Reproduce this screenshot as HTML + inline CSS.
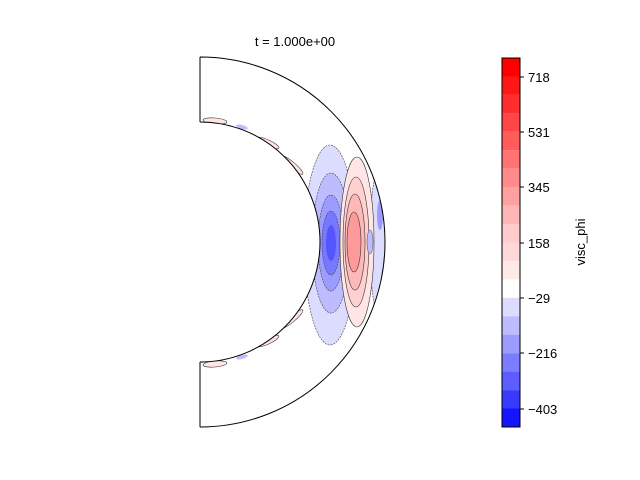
<!DOCTYPE html>
<html><head><style>body{margin:0;background:#fff}svg{display:block}</style></head><body>
<svg width="640" height="480" xmlns="http://www.w3.org/2000/svg" font-family="Liberation Sans, DejaVu Sans, sans-serif">
<defs>
<clipPath id="ann"><path d="M200,57 A185,185 0 0 1 200,427 L200,362 A120,120 0 0 0 200,122 Z"/></clipPath>
</defs>
<text x="295" y="46" font-size="13" text-anchor="middle">t = 1.000e+00</text>
<g clip-path="url(#ann)">
<rect x="200" y="57" width="190" height="370" fill="#fefefe"/>
<ellipse cx="378" cy="242" rx="8" ry="70" fill="#dcdcff" stroke="#444" stroke-width="0.6" stroke-dasharray="2,1"/>
<ellipse cx="380" cy="215" rx="3" ry="15" fill="#9c9cff"/>
<ellipse cx="330" cy="245" rx="26" ry="100" fill="#dcdcff" stroke="#444" stroke-width="0.6" stroke-dasharray="2,1"/>
<ellipse cx="331" cy="243" rx="19" ry="70" fill="#bcbcff" stroke="#444" stroke-width="0.6" stroke-dasharray="2,1"/>
<ellipse cx="331" cy="243" rx="13" ry="48" fill="#9c9cff" stroke="#444" stroke-width="0.6" stroke-dasharray="2,1"/>
<ellipse cx="331" cy="243" rx="9" ry="32" fill="#7878ff" stroke="#444" stroke-width="0.6" stroke-dasharray="2,1"/>
<ellipse cx="331" cy="243" rx="5" ry="18" fill="#5555ff"/>
<ellipse cx="357" cy="242" rx="17" ry="85" fill="#ffe5e5" stroke="#333" stroke-width="0.6"/>
<ellipse cx="356" cy="242" rx="13" ry="65" fill="#ffd0d0" stroke="#333" stroke-width="0.6"/>
<ellipse cx="355" cy="242" rx="10" ry="48" fill="#ffb8b8" stroke="#333" stroke-width="0.6"/>
<ellipse cx="354" cy="242" rx="7" ry="30" fill="#ff9a9a" stroke="#333" stroke-width="0.6"/>
<ellipse cx="370" cy="242" rx="3" ry="12" fill="#bcbcff" stroke="#444" stroke-width="0.5"/>
<ellipse cx="292" cy="165" rx="3" ry="14" fill="#ffe5e5" stroke="#333" stroke-width="0.6" transform="rotate(-50 292 165)"/>
<ellipse cx="268" cy="143" rx="3" ry="12" fill="#ffe5e5" stroke="#333" stroke-width="0.6" transform="rotate(-65 268 143)"/>
<ellipse cx="215" cy="121" rx="3" ry="12" fill="#ffe5e5" stroke="#333" stroke-width="0.6" transform="rotate(-85 215 121)"/>
<ellipse cx="292" cy="319" rx="3" ry="14" fill="#ffe5e5" stroke="#333" stroke-width="0.6" transform="rotate(50 292 319)"/>
<ellipse cx="268" cy="341" rx="3" ry="12" fill="#ffe5e5" stroke="#333" stroke-width="0.6" transform="rotate(65 268 341)"/>
<ellipse cx="215" cy="364" rx="3" ry="12" fill="#ffe5e5" stroke="#333" stroke-width="0.6" transform="rotate(85 215 364)"/>
<ellipse cx="242" cy="127" rx="2" ry="6" fill="#bcbcff" transform="rotate(-75 242 127)"/>
<ellipse cx="242" cy="357" rx="2" ry="6" fill="#bcbcff" transform="rotate(75 242 357)"/>
</g>
<path d="M200,57 A185,185 0 0 1 200,427 M200,362 A120,120 0 0 0 200,122 M200,57 L200,122 M200,362 L200,427" fill="none" stroke="#000" stroke-width="1"/>
<g>
<rect x="502" y="58" width="18" height="18.5" fill="#ff0000"/>
<rect x="502" y="76.4" width="18" height="18.5" fill="#ff1717"/>
<rect x="502" y="94.9" width="18" height="18.5" fill="#ff2e2e"/>
<rect x="502" y="113.3" width="18" height="18.5" fill="#ff4545"/>
<rect x="502" y="131.8" width="18" height="18.5" fill="#ff5c5c"/>
<rect x="502" y="150.2" width="18" height="18.5" fill="#ff7373"/>
<rect x="502" y="168.7" width="18" height="18.5" fill="#ff8a8a"/>
<rect x="502" y="187.1" width="18" height="18.5" fill="#ffa0a0"/>
<rect x="502" y="205.6" width="18" height="18.5" fill="#ffb6b6"/>
<rect x="502" y="224" width="18" height="18.5" fill="#ffcbcb"/>
<rect x="502" y="242.5" width="18" height="18.5" fill="#ffd9d9"/>
<rect x="502" y="260.9" width="18" height="18.5" fill="#ffeaea"/>
<rect x="502" y="279.4" width="18" height="18.5" fill="#fefefe"/>
<rect x="502" y="297.8" width="18" height="18.5" fill="#dcdcff"/>
<rect x="502" y="316.3" width="18" height="18.5" fill="#bcbcff"/>
<rect x="502" y="334.7" width="18" height="18.5" fill="#9c9cff"/>
<rect x="502" y="353.2" width="18" height="18.5" fill="#7c7cff"/>
<rect x="502" y="371.6" width="18" height="18.5" fill="#5c5cff"/>
<rect x="502" y="390.1" width="18" height="18.5" fill="#3a3aff"/>
<rect x="502" y="408.5" width="18" height="18.5" fill="#1414ff"/>
<rect x="502" y="58" width="18" height="369" fill="none" stroke="#000" stroke-width="1"/>
</g>
<g font-size="13" stroke="#000">
<line x1="520" y1="77" x2="524" y2="77"/><line x1="520" y1="132" x2="524" y2="132"/>
<line x1="520" y1="187" x2="524" y2="187"/><line x1="520" y1="243" x2="524" y2="243"/>
<line x1="520" y1="298" x2="524" y2="298"/><line x1="520" y1="353" x2="524" y2="353"/>
<line x1="520" y1="409" x2="524" y2="409"/>
</g>
<g font-size="13" fill="#000">
<text x="528" y="82">718</text><text x="528" y="137">531</text><text x="528" y="192">345</text>
<text x="528" y="248">158</text><text x="528" y="303">−29</text><text x="528" y="358">−216</text>
<text x="528" y="414">−403</text>
<text transform="translate(585,242) rotate(-90)" text-anchor="middle">visc_phi</text>
</g>
</svg>
</body></html>
